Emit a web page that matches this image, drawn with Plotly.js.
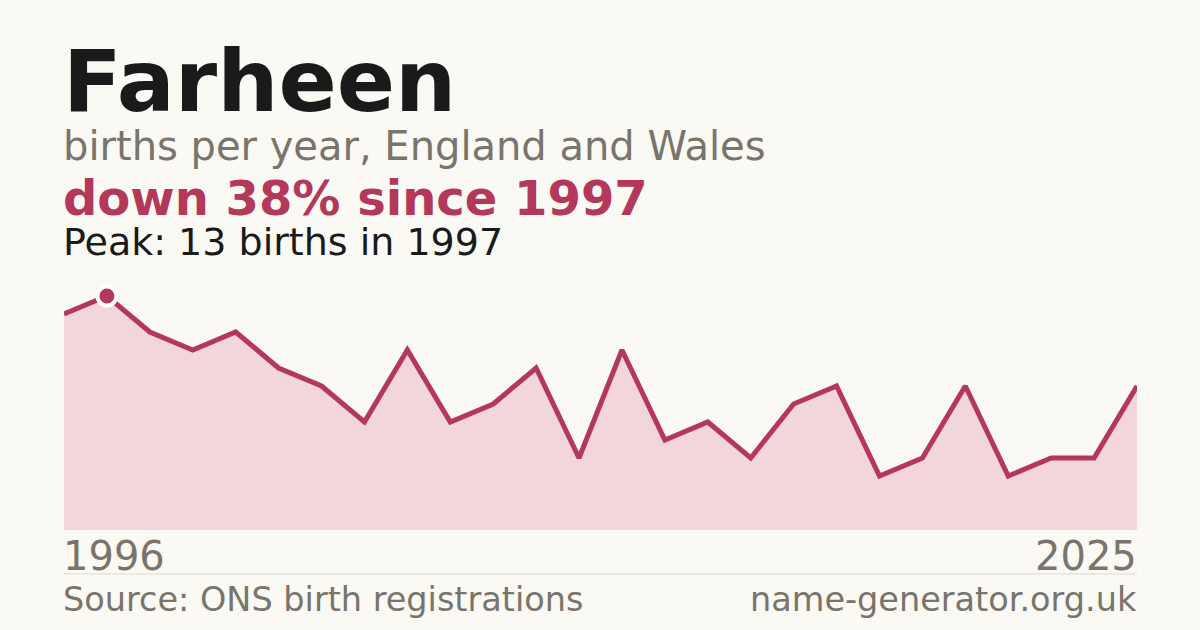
<!DOCTYPE html>
<html>
<head>
<meta charset="utf-8">
<script src="https://cdn.plot.ly/plotly-3.0.1.min.js"></script>
<style>
  html, body { margin: 0; padding: 0; background: #faf9f4; }
  #chart { width: 1200px; height: 630px; }
</style>
</head>
<body>
<div id="chart"></div>
<script>
// years with registrations (some years missing, under 3 births)
var years = ['1996', '1997', '1998', '1999', '2000', '2001', '2002', '2003',
    '2005', '2006', '2007', '2008', '2009', '2011', '2012', '2013', '2014',
    '2015', '2016', '2018', '2019', '2020', '2021', '2023', '2024', '2025'];
var births = [12, 13, 11, 10, 11, 9, 8, 6, 10, 6, 7, 9, 4, 10, 5, 6, 4, 7, 8,
    3, 4, 8, 3, 4, 4, 8];

var nameText = 'Farheen';
var subText = 'births per year, England and Wales';
var sourceText = 'Source: ONS birth registrations';
var siteText = 'name-generator.org.uk';

var red = '#b3385a';
var grey = '#79746c';

var peakIdx = births.indexOf(Math.max.apply(null, births));
var last = births[births.length - 1];
var change = Math.round((1 - last / births[peakIdx]) * 100);

var area = {
    x: years,
    y: births,
    type: 'scatter',
    mode: 'lines',
    fill: 'tozeroy',
    fillcolor: '#f2d6db',
    line: { color: red, width: 5 },
    hoverinfo: 'skip'
};

var peak = {
    x: [years[peakIdx]],
    y: [births[peakIdx]],
    type: 'scatter',
    mode: 'markers',
    marker: { color: red, size: 19, line: { color: '#ffffff', width: 4 } },
    cliponaxis: false,
    hoverinfo: 'skip'
};

var font = 'DejaVu Sans, sans-serif';

function note(text, x, y, size, color, xanchor, bold) {
    return {
        text: bold ? '<b>' + text + '</b>' : text,
        x: x, y: y, xref: 'paper', yref: 'paper',
        xanchor: xanchor, yanchor: 'middle',
        xshift: xanchor == 'left' ? -2 : 1,
        borderpad: 0,
        showarrow: false,
        font: { family: font, size: size, color: color }
    };
}

var layout = {
    width: 1200,
    height: 630,
    paper_bgcolor: '#faf9f4',
    plot_bgcolor: '#faf9f4',
    showlegend: false,
    margin: { l: 64, r: 63, t: 296, b: 100 },
    xaxis: {
        type: 'category',
        range: [0, years.length - 1],
        showgrid: false, zeroline: false, showline: false,
        showticklabels: false, ticks: ''
    },
    yaxis: {
        range: [0, births[peakIdx]],
        showgrid: false, zeroline: false, showline: false,
        showticklabels: false, ticks: ''
    },
    shapes: [{
        type: 'line', xref: 'paper', yref: 'paper',
        x0: 0, x1: 1, y0: -0.188, y1: -0.188,
        line: { color: '#dedbd3', width: 1 }
    }],
    annotations: [
        note(nameText, 0, 1.919, 86, '#1a1a1a', 'left', true),
        note(subText, 0, 1.641, 40, grey, 'left', false),
        note('down ' + change + '% since ' + years[peakIdx], 0, 1.419, 48, red, 'left', true),
        note('Peak: ' + births[peakIdx] + ' births in ' + years[peakIdx], 0, 1.232, 38, '#1a1a1a', 'left', false),
        note(years[0], 0, -0.111, 40, grey, 'left', false),
        note(years[years.length - 1], 1, -0.111, 40, grey, 'right', false),
        note(sourceText, 0, -0.298, 33.5, grey, 'left', false),
        note(siteText, 1, -0.298, 33.5, grey, 'right', false)
    ]
};

Plotly.newPlot('chart', [area, peak], layout, { staticPlot: true });
</script>
</body>
</html>
